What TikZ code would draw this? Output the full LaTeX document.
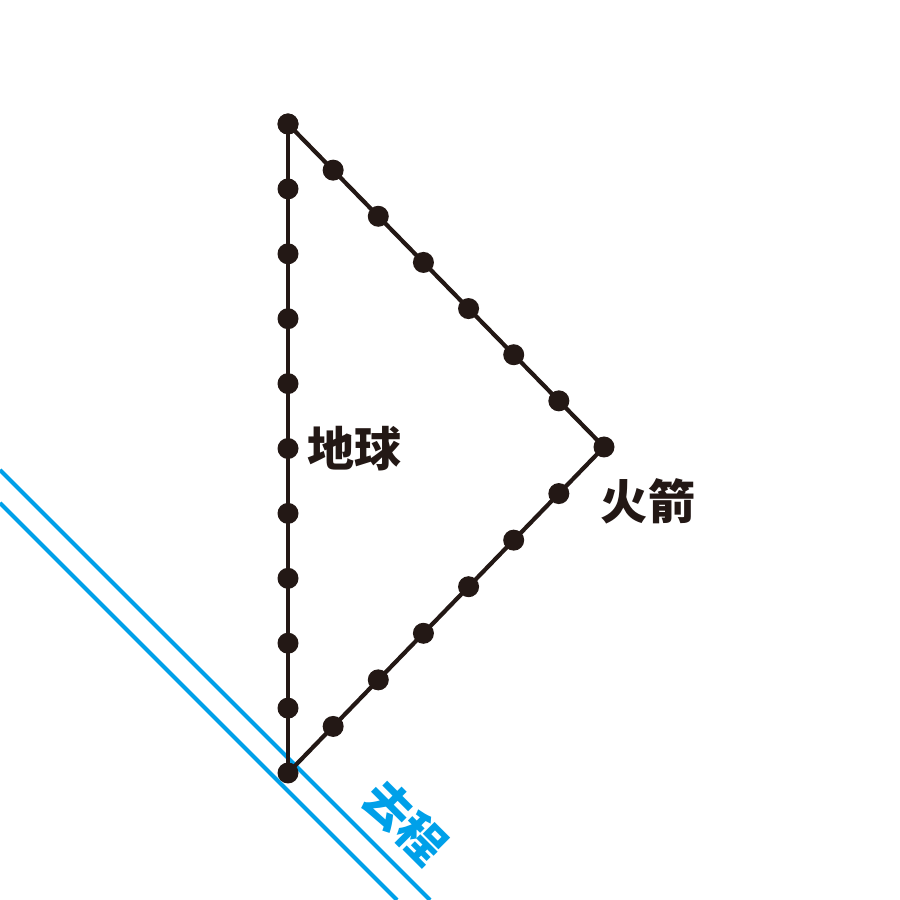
\documentclass[tikz,border=0pt]{standalone}
\usepackage{fontspec}
\newfontfamily\cjk{Noto Sans CJK SC}
\usetikzlibrary{calc,positioning}
\definecolor{ink}{HTML}{231815}
\definecolor{sky}{HTML}{00A0E9}

\begin{document}
\begin{tikzpicture}[every path/.style={line width=0.042cm},
    dot/.style={circle,fill=ink,inner sep=0pt,minimum size=0.21cm},
    word/.style={inner sep=0pt,font=\cjk\bfseries\fontsize{13.4}{16}\selectfont}]
  \useasboundingbox (0,0) rectangle (9,9);

  % light signal, out
  \begin{scope}[color=sky]
    \coordinate (l1) at (0,4.30);
    \coordinate (l2) at (4.30,0);
    \coordinate (l3) at (0,3.97);
    \coordinate (l4) at (3.97,0);
    \draw (l1) -- (l2);
    \draw (l3) -- (l4);
    \node[word,text=sky,rotate=-45] (out) at (4.05,0.78) {去程};
  \end{scope}

  \coordinate (start) at (2.88,1.27);
  \coordinate (turn) at (6.04,4.53);
  \coordinate (back) at (2.88,7.76);

  \draw[color=ink] (start) -- (back);
  \draw[color=ink] (start) -- (turn) -- (back);

  \foreach \i in {0,...,10}
    \node[dot] (e\i) at ($(start)!\i/10!(back)$) {};
  \foreach \i in {1,...,7}{
    \node[dot] (a\i) at ($(start)!\i/7!(turn)$) {};
    \node[dot] (b\i) at ($(turn)!\i/7!(back)$) {};
  }

  \node[word,text=ink,right=0.05cm of e5] (earth) {地球};
  \node[word,text=ink] (rocket) at ($(turn)+(0.44,-0.54)$) {火箭};

\end{tikzpicture}
\end{document}
